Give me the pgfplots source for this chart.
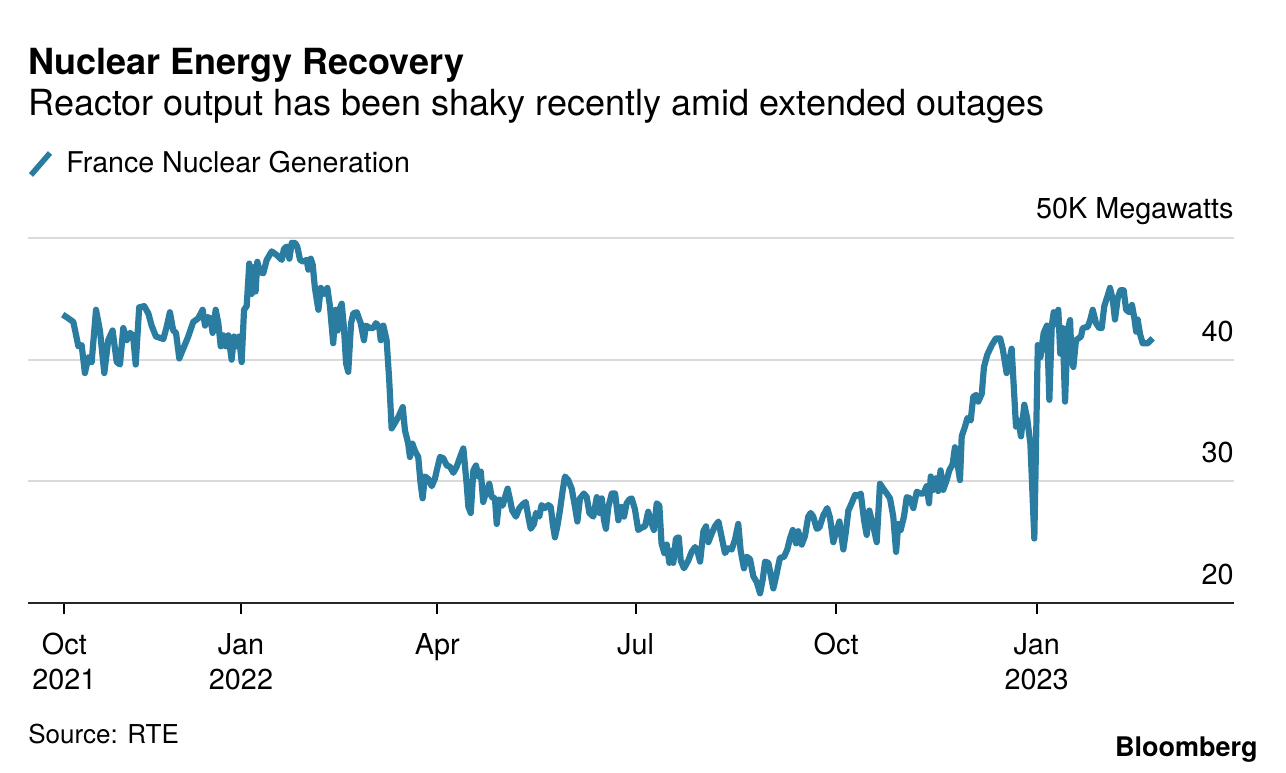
\documentclass[border=0pt]{standalone}
\usepackage{fontspec}
\setmainfont{TeX Gyre Heros}
\usepackage{pgfplots}
\pgfplotsset{compat=1.18}
\usepackage{pgfplotstable}
\definecolor{linecol}{RGB}{42,125,161}
\definecolor{gridcol}{RGB}{218,218,218}

% days since 1 Jan 2022, output in thousand MW
\pgfplotstableread{
d v
-81.8 43.7
-80.0 43.5
-76.9 43.1
-74.6 41.1
-73.1 41.2
-71.6 38.9
-70.0 40.2
-68.5 39.8
-66.5 44.1
-64.7 42.4
-62.7 38.9
-60.9 41.6
-58.9 42.4
-57.0 39.8
-55.5 39.6
-54.0 42.6
-52.4 41.6
-50.9 42.2
-49.5 42.0
-48.3 39.6
-46.7 44.3
-44.4 44.4
-42.5 43.8
-41.0 42.8
-39.0 41.9
-35.6 41.7
-34.1 42.7
-32.6 43.9
-31.1 42.4
-29.8 42.2
-28.3 40.1
-26.5 40.9
-24.2 41.9
-21.9 43.1
-19.6 43.4
-17.6 44.1
-16.5 42.8
-15.5 43.5
-14.0 43.4
-13.0 42.2
-11.6 44.1
-10.4 43.0
-9.3 41.1
-8.1 42.0
-7.0 41.1
-5.8 42.0
-4.3 40.0
-3.2 41.9
-2.0 41.1
-0.9 41.9
0.3 39.8
1.4 44.1
2.6 44.4
3.8 47.9
4.9 45.4
5.6 47.6
6.7 45.6
7.5 48.05
8.7 47.2
10.2 47.1
11.8 48.2
14.1 48.9
16.4 48.6
18.7 48.2
19.7 49.1
21.0 49.3
22.2 48.3
23.3 49.6
24.8 49.6
25.8 49.3
27.1 48.2
28.6 48.05
30.1 48.2
30.9 47.4
32.0 48.3
32.9 47.8
33.9 45.9
35.5 44.1
36.6 45.9
38.1 45.4
39.6 45.9
40.8 44.4
42.3 41.35
43.4 44.1
44.4 42.4
45.1 44.1
46.2 44.6
47.2 42.7
48.2 39.7
49.2 39.0
50.5 43.0
51.5 43.8
53.1 43.9
54.9 43.0
56.4 41.6
57.3 42.8
59.2 42.6
60.7 42.6
61.9 43.0
63.4 42.7
64.1 41.6
65.3 42.8
66.8 41.6
68.0 38.3
69.1 34.35
70.6 34.8
72.2 35.3
74.2 36.1
75.2 34.2
76.7 33.1
77.5 32.0
78.6 33.1
79.8 32.5
81.3 32.0
82.4 29.8
83.3 28.6
84.4 30.4
85.9 30.2
87.5 29.6
89.0 30.25
89.8 30.9
91.3 32.0
92.8 31.9
94.4 31.3
95.9 31.2
97.4 30.7
98.9 31.2
100.5 32.0
102.0 32.7
103.5 29.8
104.3 27.9
105.4 27.4
106.6 30.9
107.8 31.3
108.9 30.4
110.0 30.8
111.1 28.3
112.4 29.1
113.9 29.8
115.0 28.7
116.5 28.6
117.3 26.5
118.5 28.5
120.0 28.0
121.1 28.7
122.3 29.4
123.4 28.5
124.4 27.6
126.1 27.1
127.7 27.8
129.2 28.1
130.6 28.3
131.8 27.1
132.9 26.1
134.4 26.5
135.3 27.4
136.8 27.1
137.9 28.05
139.4 27.8
141.0 28.05
142.1 27.9
143.0 26.5
144.0 25.4
145.1 26.3
146.3 27.6
147.6 29.3
148.6 30.4
150.1 30.1
151.7 29.4
153.2 27.9
154.3 26.7
155.5 28.6
157.3 29.0
158.6 28.7
159.8 27.4
161.6 27.1
163.2 28.7
164.4 27.4
165.5 28.6
166.5 26.8
167.4 26.1
168.5 27.9
170.1 29.0
171.6 29.0
173.1 26.8
174.6 27.9
175.7 27.1
176.9 28.2
178.1 28.5
179.2 28.6
180.7 27.7
182.2 26.0
183.8 26.2
185.3 26.3
186.8 27.5
188.4 26.5
189.4 26.0
190.7 28.2
191.9 28.0
192.9 24.9
194.2 24.1
195.3 24.8
196.5 23.3
197.6 24.3
198.3 23.3
199.5 25.3
200.8 25.4
201.7 23.5
203.2 22.85
205.2 23.5
206.7 24.2
208.3 24.6
209.3 24.3
210.6 23.4
212.1 25.9
213.3 26.3
214.4 25.0
215.9 25.7
217.4 26.3
219.0 26.7
220.5 25.4
222.0 24.1
223.5 24.5
225.1 24.4
226.6 25.2
228.1 26.5
229.2 24.3
230.7 22.85
232.0 23.8
233.5 23.6
235.0 22.2
236.6 21.7
238.1 20.8
239.3 21.9
240.4 23.4
241.9 23.3
244.2 21.2
245.7 22.4
247.2 23.7
249.1 23.8
250.6 24.4
251.8 25.3
253.1 26.0
254.6 24.9
255.6 25.9
257.2 24.8
258.7 25.5
260.2 27.1
261.3 27.4
262.5 27.1
264.1 26.1
265.3 26.2
267.1 27.2
268.9 27.8
270.2 27.0
271.7 25.0
272.9 25.8
274.5 26.7
276.3 24.4
277.5 25.9
278.6 27.6
280.1 28.2
281.7 28.9
283.2 28.8
284.3 29.0
285.8 26.8
287.0 25.6
288.2 27.6
289.3 26.8
290.4 26.0
291.6 25.0
293.1 29.8
294.6 29.4
296.2 29.0
297.7 28.6
299.2 27.1
300.5 24.2
301.5 26.5
302.6 26.0
304.1 27.1
305.4 28.7
306.9 28.6
308.4 27.8
310.0 29.15
311.5 29.0
313.0 29.0
314.5 29.6
315.6 28.2
316.4 30.4
317.6 29.3
318.8 30.25
319.8 29.2
320.9 30.9
322.1 29.3
323.7 30.1
324.9 30.9
326.4 31.4
327.5 32.8
328.6 31.5
329.8 30.1
330.6 33.7
332.1 34.5
333.2 35.2
334.7 35.0
335.9 36.95
337.2 37.1
338.2 36.55
339.8 37.2
340.8 39.4
342.3 40.4
344.4 41.2
346.3 41.75
348.2 41.75
349.4 40.9
351.2 38.9
353.5 40.9
355.5 34.5
356.6 35.0
357.8 33.7
359.3 36.3
360.6 35.2
362.1 33.1
363.9 25.3
365.5 41.2
366.7 40.2
368.2 42.2
369.7 42.8
370.8 36.7
371.9 42.8
372.8 43.9
373.9 42.9
374.9 44.1
375.8 40.5
376.9 42.6
378.0 36.55
379.2 42.4
380.3 43.25
381.0 40.0
381.8 39.4
383.0 41.6
385.3 41.9
386.1 42.6
388.4 42.7
389.6 43.3
390.7 44.1
392.2 43.0
393.7 42.6
394.8 42.6
396.0 44.4
397.6 45.3
398.6 45.9
399.9 44.9
400.9 43.3
402.2 45.1
403.4 45.7
404.9 45.7
406.0 44.1
407.5 43.9
408.7 44.5
409.8 43.4
410.6 42.3
411.3 43.3
412.4 42.1
413.6 41.35
415.9 41.35
418.2 41.75
}\nuclear

\begin{document}
\begin{tikzpicture}
\begin{axis}[
name=ax, at={(0,0)}, anchor=south west,
width=603pt, height=182.5pt, scale only axis,
xmin=-97.7, xmax=455.5,
ymin=20, ymax=50,
axis x line*=bottom, axis y line*=right,
x axis line style={-, black!85, line width=1.3pt},
y axis line style={draw=none},
xtick={-81,0,90,181,273,365},
xticklabels={Oct\\2021,Jan\\2022,Apr,Jul,Oct,Jan\\2023},
xtick style={black, line width=1pt},
major tick length=5.5pt, tick align=outside,
xticklabel style={align=center, font=\fontsize{14.4}{17.6}\selectfont, anchor=north, yshift=-6pt},
ytick={20,30,40,50},
yticklabels={,,,},
ytick style={draw=none},
ymajorgrids=true,
grid style={gridcol, line width=1pt},
clip=false,
]
\addplot[linecol, line width=3.1pt, line join=round] table[x=d, y=v] {\nuclear};
\begin{scope}[every node/.style={anchor=base east, inner sep=0pt, font=\fontsize{14.4}{18}\selectfont, yshift=9.2pt}]
\node at (axis cs:455.5,20) {20};
\node at (axis cs:455.5,30) {30};
\node at (axis cs:455.5,40) {40};
\node[yshift=0.6pt] at (axis cs:455.5,50) {50K Megawatts};
\end{scope}
\end{axis}

\begin{scope}[shift={(-14pt,301.5pt)}, x=0.5pt, y=-0.5pt]
\node[anchor=base west, inner sep=0pt, font=\fontsize{18}{20}\selectfont\bfseries] at (28,75) {Nuclear Energy Recovery};
\node[anchor=base west, inner sep=0pt, font=\fontsize{18}{20}\selectfont] at (28,116) {Reactor output has been shaky recently amid extended outages};
\draw[linecol, line width=2.8pt] (31,175) -- (50,153);
\node[anchor=base west, inner sep=0pt, font=\fontsize{14.3}{18}\selectfont] at (66,173) {France Nuclear Generation};
\node[anchor=base west, inner sep=0pt, font=\fontsize{13}{16}\selectfont] at (28,743) {Source: RTE};
\node[anchor=base east, inner sep=0pt, font=\fontsize{13.5}{16}\selectfont\bfseries] at (1258,756) {Bloomberg};
\end{scope}

\pgfresetboundingbox
\path (-14pt,-84.5pt) rectangle (629pt,301.5pt);
\end{tikzpicture}
\end{document}
